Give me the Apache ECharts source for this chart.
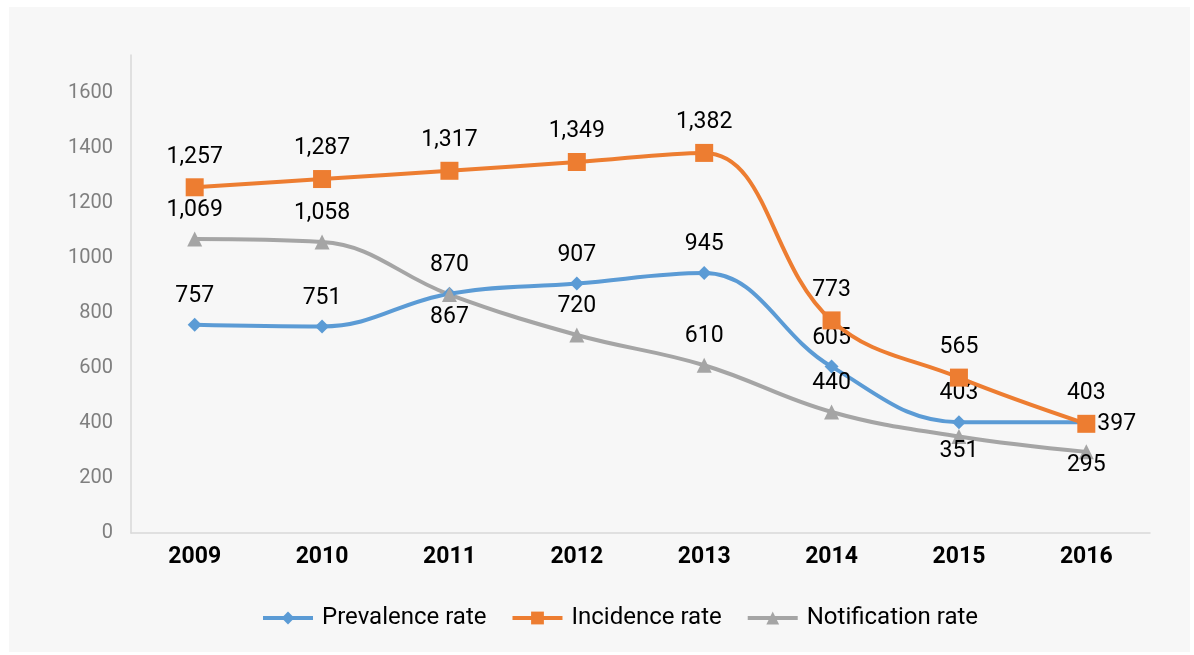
<!DOCTYPE html>
<html>
<head>
<meta charset="utf-8">
<script src="https://cdn.jsdelivr.net/npm/echarts@6/dist/echarts.min.js"></script>
<style>
  html, body { margin: 0; padding: 0; background: #ffffff; }
  #panel { position: absolute; left: 9px; top: 7px; width: 1181px; height: 645px; background: #f7f7f7; }
</style>
</head>
<body>
<div id="panel"></div>
<script>
const years = ['2009', '2010', '2011', '2012', '2013', '2014', '2015', '2016'];
const prevalence = [757, 751, 870, 907, 945, 605, 403, 403];
const incidence = [1257, 1287, 1317, 1349, 1382, 773, 565, 397];
const notification = [1069, 1058, 867, 720, 610, 440, 351, 295];
const yTicks = [0, 200, 400, 600, 800, 1000, 1200, 1400, 1600];

const FONT = 'Roboto, "DejaVu Sans", sans-serif';
const fmt = v => Number(v).toLocaleString('en-US');

// label placement overrides per series: index -> [position, distance]
const labelPlacement = {
  incidence: { 7: ['right', 2] },
  notification: { 2: ['bottom', 4], 6: ['bottom', -4], 7: ['bottom', -6] }
};

function buildData(values, key) {
  const over = labelPlacement[key] || {};
  return values.map((v, i) => {
    const o = over[i];
    if (!o) return v;
    return { value: v, label: { position: o[0], distance: o[1] } };
  });
}

function lineSeries(name, key, values, color, symbol, size) {
  return {
    name: name,
    type: 'line',
    smooth: 0.4,
    data: buildData(values, key),
    symbol: symbol,
    symbolSize: size,
    showAllSymbol: true,
    lineStyle: { color: color, width: 4 },
    itemStyle: { color: color },
    label: {
      show: true,
      position: 'top',
      distance: 10,
      color: '#000000',
      fontFamily: FONT,
      fontSize: 23,
      formatter: p => fmt(p.value)
    },
    emphasis: { disabled: true },
    z: key === 'incidence' ? 4 : 3
  };
}

const chart = echarts.init(document.getElementById('panel'), null, { renderer: 'canvas' });
chart.setOption({
  animation: false,
  backgroundColor: '#f7f7f7',
  grid: { left: 122, top: 48, width: 1019, height: 478, containLabel: false },
  xAxis: {
    type: 'category',
    data: years,
    boundaryGap: true,
    axisLine: { lineStyle: { color: '#d9d9d9', width: 1.5 } },
    axisTick: { show: false },
    axisLabel: { color: '#000000', fontFamily: FONT, fontSize: 23, fontWeight: 'bold', margin: 13 }
  },
  yAxis: {
    type: 'value',
    min: 0,
    max: 1738,
    interval: 200,
    axisLine: { show: true, lineStyle: { color: '#d9d9d9', width: 1.5 } },
    axisTick: { show: false },
    splitLine: { show: false },
    axisLabel: {
      color: '#7f7f7f',
      fontFamily: FONT,
      fontSize: 20,
      margin: 18,
      formatter: v => (yTicks.indexOf(v) >= 0 ? String(v) : '')
    }
  },
  legend: {
    top: 594,
    left: 247,
    itemWidth: 50,
    itemHeight: 16,
    itemGap: 24,
    lineStyle: { width: 4 },
    textStyle: { color: '#000000', fontFamily: FONT, fontSize: 24, padding: [0, 0, 0, 4] },
    data: ['Prevalence rate', 'Incidence rate', 'Notification rate']
  },
  series: [
    lineSeries('Prevalence rate', 'prevalence', prevalence, '#5b9bd5', 'diamond', 14),
    lineSeries('Incidence rate', 'incidence', incidence, '#ed7d31', 'rect', 18),
    lineSeries('Notification rate', 'notification', notification, '#a5a5a5', 'triangle', 15)
  ]
});
</script>
</body>
</html>
